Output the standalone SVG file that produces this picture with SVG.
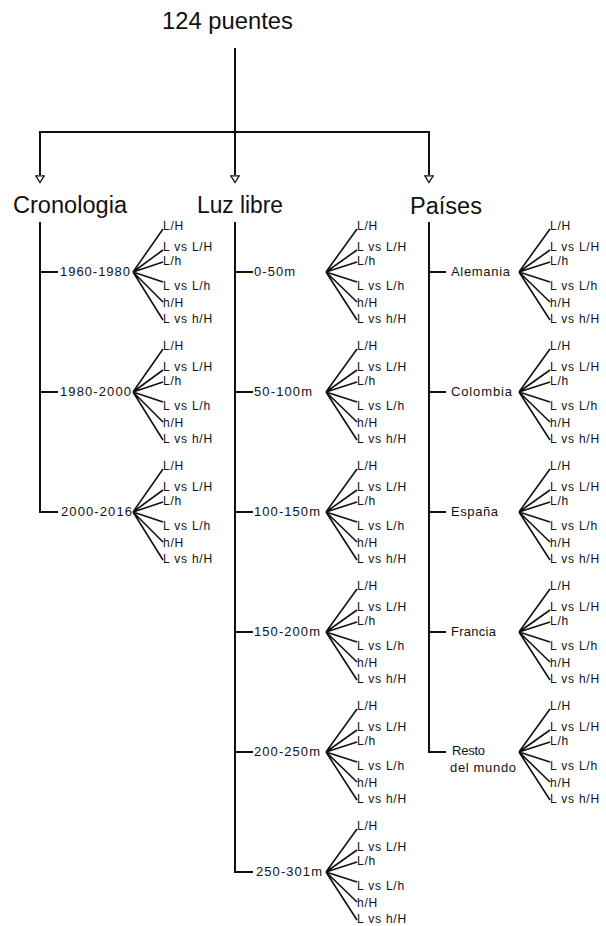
<svg xmlns="http://www.w3.org/2000/svg" width="606" height="926" viewBox="0 0 606 926">
  <style>
    text { font-family: "Liberation Sans", Arial, sans-serif; fill: #111; }
    .title { font-size: 23px; }
    .head { font-size: 23px; }
    .item { font-size: 13px; }
    .leaf { font-size: 12px; letter-spacing: 0.8px; }
    .wire { fill: none; stroke: #111; stroke-width: 2; }
    .fan { fill: none; stroke: #111; stroke-width: 1.6; }
  </style>
  <defs>
    <marker id="arrowOpen" viewBox="0 0 10 12" refX="0" refY="6" markerWidth="9" markerHeight="10" markerUnits="userSpaceOnUse" orient="auto">
      <path d="M1,1 L9,6 L1,11 Z" fill="#fff" stroke="#111" stroke-width="1.5"/>
    </marker>
  </defs>
  <rect width="606" height="926" fill="#fff"/>

  <!-- connectors -->
  <g id="connectors">
    <path class="wire" d="M235,48 V132 M40,132 H429"/>
    <path class="wire" d="M40,131 V175" marker-end="url(#arrowOpen)"/>
    <path class="wire" d="M235,132 V175" marker-end="url(#arrowOpen)"/>
    <path class="wire" d="M429,131 V175" marker-end="url(#arrowOpen)"/>
    <!-- column spines with ticks -->
    <path class="wire" d="M40,222 V512 H58 M40,272 H58 M40,392 H58"/>
    <path class="wire" d="M235,222 V872 H253 M235,272 H253 M235,392 H253 M235,512 H253 M235,632 H253 M235,752 H253"/>
    <path class="wire" d="M429,222 V752 H446 M429,272 H446 M429,392 H446 M429,512 H446 M429,632 H446"/>
    <!-- fans: Cronologia -->
    <path class="fan" d="M133,272 L163,229 M133,272 L163,250 M133,272 L163,262 M133,272 L163,282 M133,272 L163,302 M133,272 L163,320"/>
    <path class="fan" d="M133,392 L163,349 M133,392 L163,370 M133,392 L163,382 M133,392 L163,402 M133,392 L163,422 M133,392 L163,440"/>
    <path class="fan" d="M133,512 L163,469 M133,512 L163,490 M133,512 L163,502 M133,512 L163,522 M133,512 L163,542 M133,512 L163,560"/>
    <!-- fans: Luz libre -->
    <path class="fan" d="M326,272 L357,229 M326,272 L357,250 M326,272 L357,262 M326,272 L357,282 M326,272 L357,302 M326,272 L357,320"/>
    <path class="fan" d="M326,392 L357,349 M326,392 L357,370 M326,392 L357,382 M326,392 L357,402 M326,392 L357,422 M326,392 L357,440"/>
    <path class="fan" d="M326,512 L357,469 M326,512 L357,490 M326,512 L357,502 M326,512 L357,522 M326,512 L357,542 M326,512 L357,560"/>
    <path class="fan" d="M326,632 L357,589 M326,632 L357,610 M326,632 L357,622 M326,632 L357,642 M326,632 L357,662 M326,632 L357,680"/>
    <path class="fan" d="M326,752 L357,709 M326,752 L357,730 M326,752 L357,742 M326,752 L357,762 M326,752 L357,782 M326,752 L357,800"/>
    <path class="fan" d="M326,872 L357,829 M326,872 L357,850 M326,872 L357,862 M326,872 L357,882 M326,872 L357,902 M326,872 L357,920"/>
    <!-- fans: Países -->
    <path class="fan" d="M519,272 L550,229 M519,272 L550,250 M519,272 L550,262 M519,272 L550,282 M519,272 L550,302 M519,272 L550,320"/>
    <path class="fan" d="M519,392 L550,349 M519,392 L550,370 M519,392 L550,382 M519,392 L550,402 M519,392 L550,422 M519,392 L550,440"/>
    <path class="fan" d="M519,512 L550,469 M519,512 L550,490 M519,512 L550,502 M519,512 L550,522 M519,512 L550,542 M519,512 L550,560"/>
    <path class="fan" d="M519,632 L550,589 M519,632 L550,610 M519,632 L550,622 M519,632 L550,642 M519,632 L550,662 M519,632 L550,680"/>
    <path class="fan" d="M519,752 L550,709 M519,752 L550,730 M519,752 L550,742 M519,752 L550,762 M519,752 L550,782 M519,752 L550,800"/>
  </g>

  <!-- root and headings -->
  <g id="root"><text class="title" x="162" y="29" textLength="131" lengthAdjust="spacingAndGlyphs">124 puentes</text></g>
  <g id="cronologia"><text class="head" x="13" y="213" textLength="114" lengthAdjust="spacingAndGlyphs">Cronologia</text></g>
  <g id="luz-libre"><text class="head" x="197" y="213" textLength="86" lengthAdjust="spacingAndGlyphs">Luz libre</text></g>
  <g id="paises"><text class="head" x="410" y="214" textLength="72" lengthAdjust="spacingAndGlyphs">Países</text></g>

  <!-- Cronologia items -->
  <g id="c-1960"><text class="item" x="60" y="276" textLength="70" lengthAdjust="spacing">1960-1980</text></g>
  <g id="c-1980"><text class="item" x="60" y="396" textLength="71" lengthAdjust="spacing">1980-2000</text></g>
  <g id="c-2000"><text class="item" x="61" y="516" textLength="71" lengthAdjust="spacing">2000-2016</text></g>

  <!-- Luz libre items -->
  <g id="l-0"><text class="item" x="254" y="276" textLength="41" lengthAdjust="spacing">0-50m</text></g>
  <g id="l-50"><text class="item" x="254" y="396" textLength="58" lengthAdjust="spacing">50-100m</text></g>
  <g id="l-100"><text class="item" x="254" y="516" textLength="66" lengthAdjust="spacing">100-150m</text></g>
  <g id="l-150"><text class="item" x="254" y="636" textLength="66" lengthAdjust="spacing">150-200m</text></g>
  <g id="l-200"><text class="item" x="254" y="756" textLength="66" lengthAdjust="spacing">200-250m</text></g>
  <g id="l-250"><text class="item" x="256" y="876" textLength="66" lengthAdjust="spacing">250-301m</text></g>

  <!-- Países items -->
  <g id="p-alemania"><text class="item" x="451" y="276" textLength="59" lengthAdjust="spacing">Alemania</text></g>
  <g id="p-colombia"><text class="item" x="451" y="396" textLength="61" lengthAdjust="spacing">Colombia</text></g>
  <g id="p-espana"><text class="item" x="451" y="516" textLength="47" lengthAdjust="spacing">España</text></g>
  <g id="p-francia"><text class="item" x="451" y="636" textLength="45" lengthAdjust="spacing">Francia</text></g>
  <g id="p-resto"><text class="item" x="452" y="755" textLength="33" lengthAdjust="spacing">Resto</text><text class="item" x="450" y="772" textLength="66" lengthAdjust="spacing">del mundo</text></g>

  <!-- ratio leaves, Cronologia column -->
  <g id="c-1960-leaves"><text class="leaf" x="163" y="230">L/H</text><text class="leaf" x="163" y="251">L vs L/H</text><text class="leaf" x="163" y="265">L/h</text><text class="leaf" x="163" y="290">L vs L/h</text><text class="leaf" x="163" y="307">h/H</text><text class="leaf" x="163" y="323">L vs h/H</text></g>
  <g id="c-1980-leaves"><text class="leaf" x="163" y="350">L/H</text><text class="leaf" x="163" y="371">L vs L/H</text><text class="leaf" x="163" y="385">L/h</text><text class="leaf" x="163" y="410">L vs L/h</text><text class="leaf" x="163" y="427">h/H</text><text class="leaf" x="163" y="443">L vs h/H</text></g>
  <g id="c-2000-leaves"><text class="leaf" x="163" y="470">L/H</text><text class="leaf" x="163" y="491">L vs L/H</text><text class="leaf" x="163" y="505">L/h</text><text class="leaf" x="163" y="530">L vs L/h</text><text class="leaf" x="163" y="547">h/H</text><text class="leaf" x="163" y="563">L vs h/H</text></g>

  <!-- ratio leaves, Luz libre column -->
  <g id="l-0-leaves"><text class="leaf" x="357" y="230">L/H</text><text class="leaf" x="357" y="251">L vs L/H</text><text class="leaf" x="357" y="265">L/h</text><text class="leaf" x="357" y="290">L vs L/h</text><text class="leaf" x="357" y="307">h/H</text><text class="leaf" x="357" y="323">L vs h/H</text></g>
  <g id="l-50-leaves"><text class="leaf" x="357" y="350">L/H</text><text class="leaf" x="357" y="371">L vs L/H</text><text class="leaf" x="357" y="385">L/h</text><text class="leaf" x="357" y="410">L vs L/h</text><text class="leaf" x="357" y="427">h/H</text><text class="leaf" x="357" y="443">L vs h/H</text></g>
  <g id="l-100-leaves"><text class="leaf" x="357" y="470">L/H</text><text class="leaf" x="357" y="491">L vs L/H</text><text class="leaf" x="357" y="505">L/h</text><text class="leaf" x="357" y="530">L vs L/h</text><text class="leaf" x="357" y="547">h/H</text><text class="leaf" x="357" y="563">L vs h/H</text></g>
  <g id="l-150-leaves"><text class="leaf" x="357" y="590">L/H</text><text class="leaf" x="357" y="611">L vs L/H</text><text class="leaf" x="357" y="625">L/h</text><text class="leaf" x="357" y="650">L vs L/h</text><text class="leaf" x="357" y="667">h/H</text><text class="leaf" x="357" y="683">L vs h/H</text></g>
  <g id="l-200-leaves"><text class="leaf" x="357" y="710">L/H</text><text class="leaf" x="357" y="731">L vs L/H</text><text class="leaf" x="357" y="745">L/h</text><text class="leaf" x="357" y="770">L vs L/h</text><text class="leaf" x="357" y="787">h/H</text><text class="leaf" x="357" y="803">L vs h/H</text></g>
  <g id="l-250-leaves"><text class="leaf" x="357" y="830">L/H</text><text class="leaf" x="357" y="851">L vs L/H</text><text class="leaf" x="357" y="865">L/h</text><text class="leaf" x="357" y="890">L vs L/h</text><text class="leaf" x="357" y="907">h/H</text><text class="leaf" x="357" y="923">L vs h/H</text></g>

  <!-- ratio leaves, Países column -->
  <g id="p-alemania-leaves"><text class="leaf" x="550" y="230">L/H</text><text class="leaf" x="550" y="251">L vs L/H</text><text class="leaf" x="550" y="265">L/h</text><text class="leaf" x="550" y="290">L vs L/h</text><text class="leaf" x="550" y="307">h/H</text><text class="leaf" x="550" y="323">L vs h/H</text></g>
  <g id="p-colombia-leaves"><text class="leaf" x="550" y="350">L/H</text><text class="leaf" x="550" y="371">L vs L/H</text><text class="leaf" x="550" y="385">L/h</text><text class="leaf" x="550" y="410">L vs L/h</text><text class="leaf" x="550" y="427">h/H</text><text class="leaf" x="550" y="443">L vs h/H</text></g>
  <g id="p-espana-leaves"><text class="leaf" x="550" y="470">L/H</text><text class="leaf" x="550" y="491">L vs L/H</text><text class="leaf" x="550" y="505">L/h</text><text class="leaf" x="550" y="530">L vs L/h</text><text class="leaf" x="550" y="547">h/H</text><text class="leaf" x="550" y="563">L vs h/H</text></g>
  <g id="p-francia-leaves"><text class="leaf" x="550" y="590">L/H</text><text class="leaf" x="550" y="611">L vs L/H</text><text class="leaf" x="550" y="625">L/h</text><text class="leaf" x="550" y="650">L vs L/h</text><text class="leaf" x="550" y="667">h/H</text><text class="leaf" x="550" y="683">L vs h/H</text></g>
  <g id="p-resto-leaves"><text class="leaf" x="550" y="710">L/H</text><text class="leaf" x="550" y="731">L vs L/H</text><text class="leaf" x="550" y="745">L/h</text><text class="leaf" x="550" y="770">L vs L/h</text><text class="leaf" x="550" y="787">h/H</text><text class="leaf" x="550" y="803">L vs h/H</text></g>
</svg>
